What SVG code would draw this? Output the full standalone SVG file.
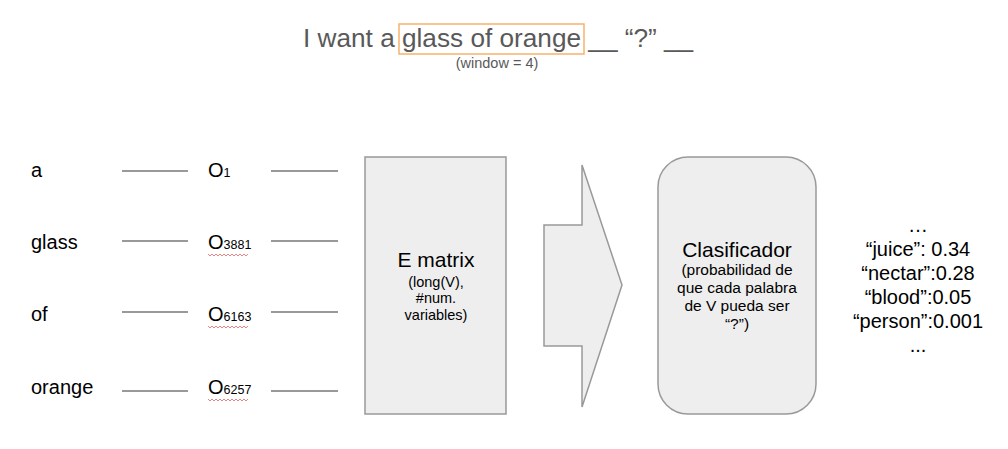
<svg xmlns="http://www.w3.org/2000/svg" width="1008" height="449" viewBox="0 0 1008 449">
<style>
text{font-family:"Liberation Sans",Arial,sans-serif}
.w{font-size:20px;fill:#000}
.o{font-size:20px;fill:#000}
.sub{font-size:12.5px}
.ln{stroke:#999;stroke-width:2;fill:none}
.sq{stroke:#e06666;stroke-width:0.8;fill:none}
.box{fill:#eeeeee;stroke:#999;stroke-width:1.5}
.big{font-size:21px;fill:#000;text-anchor:middle}
.sm{font-size:14.5px;fill:#000;text-anchor:middle}
.sm2{font-size:15.5px;fill:#000;text-anchor:middle}
.res{font-size:20px;fill:#000;text-anchor:middle}
</style>
<rect width="1008" height="449" fill="#fff"/>
<g id="title">
<rect x="399" y="24" width="185" height="30" fill="none" stroke="#f6b26b" stroke-width="1.5"/>
<text x="303" y="47" font-size="26.2" fill="#595959">I want a glass of orange __ “?” __</text>
<text x="497" y="68" font-size="14.5" fill="#595959" text-anchor="middle">(window = 4)</text>
</g>
<g id="words">
<text class="w" x="31" y="177">a</text>
<text class="w" x="31" y="249">glass</text>
<text class="w" x="31" y="321">of</text>
<text class="w" x="31" y="394">orange</text>
</g>
<g id="onehot">
<text class="o" x="208" y="177">O<tspan class="sub">1</tspan></text>
<text class="o" x="208" y="249">O<tspan class="sub">3881</tspan></text>
<text class="o" x="208" y="321">O<tspan class="sub">6163</tspan></text>
<text class="o" x="208" y="394">O<tspan class="sub">6257</tspan></text>
<path class="sq" d="M208 254 l2 2 l2 -2 l2 2 l2 -2 l2 2 l2 -2 l2 2 l2 -2 l2 2 l2 -2 l2 2 l2 -2 l2 2 l2 -2 l2 2 l2 -2 l2 2 l2 -2 l2 2 l2 -2"/>
<path class="sq" d="M208 326 l2 2 l2 -2 l2 2 l2 -2 l2 2 l2 -2 l2 2 l2 -2 l2 2 l2 -2 l2 2 l2 -2 l2 2 l2 -2 l2 2 l2 -2 l2 2 l2 -2 l2 2 l2 -2"/>
<path class="sq" d="M208 399 l2 2 l2 -2 l2 2 l2 -2 l2 2 l2 -2 l2 2 l2 -2 l2 2 l2 -2 l2 2 l2 -2 l2 2 l2 -2 l2 2 l2 -2 l2 2 l2 -2 l2 2 l2 -2"/>
</g>
<g id="connectors">
<line class="ln" x1="122" y1="171" x2="188" y2="171"/>
<line class="ln" x1="122" y1="241" x2="188" y2="241"/>
<line class="ln" x1="122" y1="312" x2="188" y2="312"/>
<line class="ln" x1="122" y1="391" x2="188" y2="391"/>
<line class="ln" x1="271" y1="171" x2="338" y2="171"/>
<line class="ln" x1="271" y1="241" x2="338" y2="241"/>
<line class="ln" x1="271" y1="312" x2="338" y2="312"/>
<line class="ln" x1="271" y1="391" x2="338" y2="391"/>
</g>
<g id="ematrix">
<rect class="box" x="365" y="157" width="141" height="257"/>
<text class="big" x="436" y="267">E matrix</text>
<text class="sm" x="436" y="287">(long(V),</text>
<text class="sm" x="436" y="303">#num.</text>
<text class="sm" x="436" y="320">variables)</text>
</g>
<g id="arrow">
<path class="box" d="M544 225 H582 V165 L622 285 L582 407 V346 H544 Z"/>
</g>
<g id="clasificador">
<rect class="box" x="658" y="157" width="158" height="257" rx="30" ry="30"/>
<text class="big" x="737" y="257">Clasificador</text>
<text class="sm2" x="737" y="275">(probabilidad de</text>
<text class="sm2" x="737" y="293">que cada palabra</text>
<text class="sm2" x="737" y="311">de V pueda ser</text>
<text class="sm2" x="737" y="329">“?”)</text>
</g>
<g id="results">
<text class="res" x="918" y="232">…</text>
<text class="res" x="918" y="256">“juice”: 0.34</text>
<text class="res" x="918" y="280">“nectar”:0.28</text>
<text class="res" x="918" y="304">“blood”:0.05</text>
<text class="res" x="918" y="328">“person”:0.001</text>
<text class="res" x="918" y="352">...</text>
</g>
</svg>
